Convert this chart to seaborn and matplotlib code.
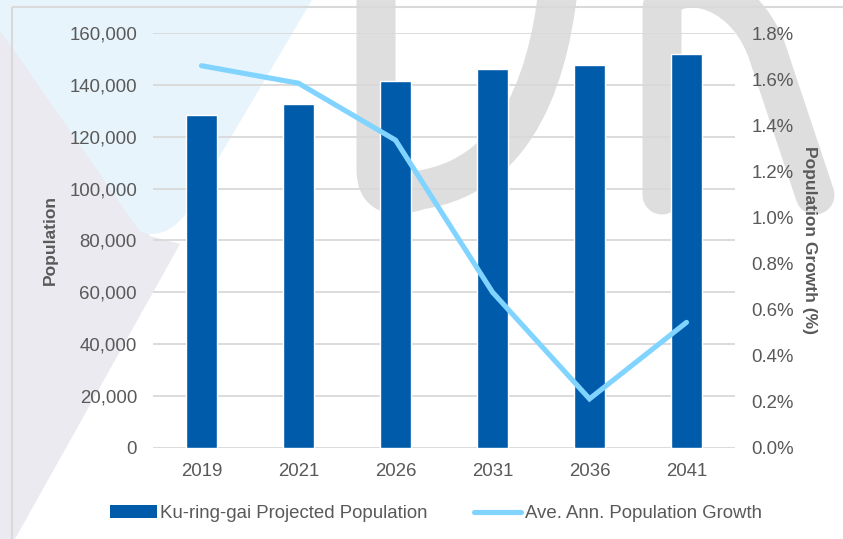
import numpy as np
import pandas as pd
import matplotlib
matplotlib.use("Agg")
import matplotlib.pyplot as plt
import seaborn as sns
from matplotlib.patches import Polygon, PathPatch, Rectangle, Patch
from matplotlib.path import Path
from matplotlib.lines import Line2D
from matplotlib.ticker import FuncFormatter, MultipleLocator

# ---- data ----
years = ['2019', '2021', '2026', '2031', '2036', '2041']
population = [128500, 132500, 141400, 146000, 147600, 151800]
growth_pct = [1.658, 1.582, 1.335, 0.675, 0.212, 0.544]
bar_label = 'Ku-ring-gai Projected Population'
line_label = 'Ave. Ann. Population Growth'
left_title = 'Population'
right_title = 'Population Growth (%)'

BAR_C = '#005BAA'
LINE_C = '#80D4FF'
TXT_C = '#595959'
GRID_C = '#D9D9D9'

sns.set_style('white')
plt.rcParams['font.family'] = ['Liberation Sans', 'DejaVu Sans']

W, H = 843, 539
fig = plt.figure(figsize=(W / 100, H / 100), dpi=100)

# ---- decorative background watermark (figure pixel coords) ----
bg = fig.add_axes([0, 0, 1, 1], zorder=-5)
bg.set_xlim(0, W)
bg.set_ylim(H, 0)
bg.axis('off')
bg.add_patch(Polygon([(0, 30), (150, 236), (180, 244), (15, 539), (0, 539)],
                     closed=True, fc='#EAEAF0', ec='none'))
bp = Path([(0, 0), (312, 0), (185, 215), (165, 240), (140, 232), (0, 30), (0, 0)],
          [Path.MOVETO, Path.LINETO, Path.LINETO, Path.CURVE3, Path.CURVE3,
           Path.LINETO, Path.CLOSEPOLY])
bg.add_patch(PathPatch(bp, fc='#E8F4FB', ec='none'))
lw_px = 39 * 72 / 100
uP = Path([(376, -30), (376, 170), (376, 205), (420, 190),
           (520, 175), (552, 70), (560, -30)],
          [Path.MOVETO, Path.LINETO, Path.CURVE3, Path.CURVE3,
           Path.CURVE4, Path.CURVE4, Path.CURVE4])
bg.add_patch(PathPatch(uP, fc='none', ec='#DEDEDE', lw=lw_px, capstyle='round',
                       joinstyle='round'))
nP = Path([(662, 195), (662, 10), (662, -25), (745, -25), (770, 60),
           (815, 195)],
          [Path.MOVETO, Path.LINETO, Path.CURVE4, Path.CURVE4, Path.CURVE4,
           Path.LINETO])
bg.add_patch(PathPatch(nP, fc='none', ec='#DEDEDE', lw=lw_px, capstyle='round',
                       joinstyle='round'))
bg.add_patch(Rectangle((12, 7), 900, 600, fc='none', ec='#D9D9D9', lw=1.5))

# ---- main chart ----
left, right = 153 / W, 735 / W
bottom, top = 1 - 447.7 / H, 1 - 33 / H
ax = fig.add_axes([left, bottom, right - left, top - bottom])
ax.set_facecolor('none')

df = pd.DataFrame({'year': years, 'population': population, 'growth': growth_pct})
sns.barplot(data=df, x='year', y='population', color=BAR_C, width=0.32,
            saturation=1, ax=ax, zorder=3)
ax.set_ylim(0, 160000)
ax.set_xlim(-0.5, len(years) - 0.5)
ax.yaxis.set_major_locator(MultipleLocator(20000))
ax.yaxis.set_major_formatter(FuncFormatter(lambda v, p: f'{int(v):,}'))
ax.grid(axis='y', color=GRID_C, lw=1.3, zorder=0)
ax.set_axisbelow(True)
for s in ax.spines.values():
    s.set_visible(False)
ax.tick_params(axis='y', length=0, pad=11.5, labelsize=13.4, labelcolor=TXT_C)
ax.tick_params(axis='x', length=0, pad=11, labelsize=13.4, labelcolor=TXT_C)
ax.set_xlabel('')
ax.set_ylabel(left_title, fontsize=12.5, fontweight='bold', color=TXT_C)
ax.yaxis.set_label_coords(-0.1632, 0.5)

ax2 = ax.twinx()
ax2.set_facecolor('none')
sns.lineplot(x=np.arange(len(years)), y=df['growth'], color=LINE_C, lw=3.7,
             ax=ax2, solid_capstyle='round', solid_joinstyle='miter', zorder=4)
ax2.set_ylim(0, 1.8)
ax2.yaxis.set_major_locator(MultipleLocator(0.2))
ax2.yaxis.set_major_formatter(FuncFormatter(lambda v, p: f'{v:.1f}%'))
for s in ax2.spines.values():
    s.set_visible(False)
ax2.tick_params(axis='y', length=0, pad=12, labelsize=13.4, labelcolor=TXT_C)
ax2.set_ylabel(right_title, fontsize=12.5, fontweight='bold', color=TXT_C,
               rotation=270)
ax2.yaxis.set_label_coords(1.1404, 0.5)
ax2.set_xlim(-0.5, len(years) - 0.5)

handles = [Patch(facecolor=BAR_C, edgecolor='none', label=bar_label),
           Line2D([0], [0], color=LINE_C, lw=3.7, solid_capstyle='round',
                  label=line_label)]
fig.legend(handles=handles, loc='center', bbox_to_anchor=(0.517, 0.047),
           ncol=2, frameon=False, fontsize=13.4, handlelength=2.5,
           handletextpad=0.2, columnspacing=2.5, labelcolor=TXT_C)

fig.savefig('out.png', dpi=100)
